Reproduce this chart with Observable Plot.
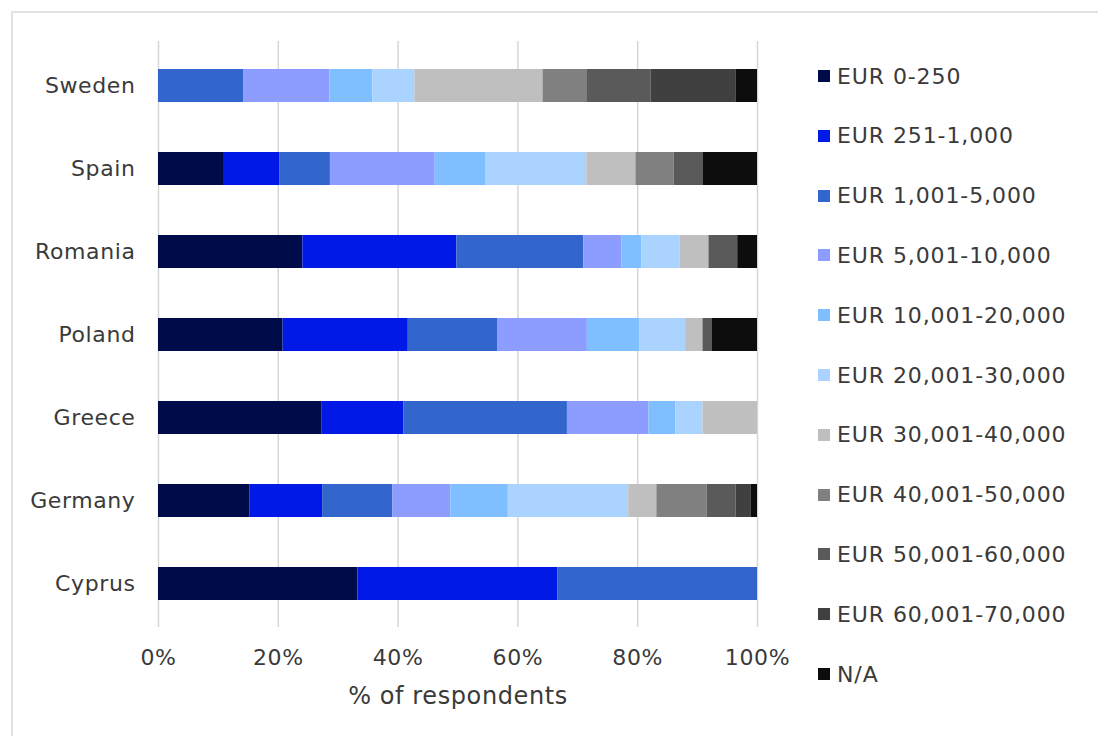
<!DOCTYPE html>
<html><head><meta charset="utf-8">
<script src="https://cdn.jsdelivr.net/npm/d3@7"></script>
<script src="https://cdn.jsdelivr.net/npm/@observablehq/plot@0.6"></script>
<style>
body{margin:0;background:#fff;font-family:"DejaVu Sans",Verdana,sans-serif;}
#wrap{position:relative;width:1098px;height:736px;overflow:hidden;}
#frame{position:absolute;left:11px;top:11px;width:1100px;height:740px;border-top:2px solid #e2e2e2;border-left:2px solid #e2e2e2;}
#chart{position:absolute;left:0;top:0;}
#legend{position:absolute;left:818px;top:0;}
.item{position:absolute;left:0;height:24px;display:flex;align-items:center;white-space:nowrap;font-size:22px;letter-spacing:0.9px;color:#3a3a3a;}
.sw{width:12px;height:12px;margin-right:7px;flex:none;}
</style></head>
<body><div id="wrap"><div id="frame"></div><div id="chart"></div><div id="legend"></div></div>
<script>
const countries = ["Sweden","Spain","Romania","Poland","Greece","Germany","Cyprus"];
const categories = ["EUR 0-250","EUR 251-1,000","EUR 1,001-5,000","EUR 5,001-10,000","EUR 10,001-20,000","EUR 20,001-30,000","EUR 30,001-40,000","EUR 40,001-50,000","EUR 50,001-60,000","EUR 60,001-70,000","N/A"];
const colors = ["#000c4a","#0019e6","#3366cc","#8c9cff","#80bfff","#aad4ff","#bfbfbf","#808080","#5a5a5a","#404040","#0d0d0d"];
// percentages per country, in category order
const sweden  = [0, 0, 14.2, 14.4, 7.2, 7.0, 21.4, 7.3, 10.7, 14.2, 3.6];
const spain   = [11.0, 9.3, 8.4, 17.5, 8.5, 16.8, 8.2, 6.4, 4.8, 0, 9.1];
const romania = [24.1, 25.7, 21.2, 6.4, 3.3, 6.4, 4.8, 0, 4.8, 0, 3.3];
const poland  = [20.8, 20.9, 14.9, 15.0, 8.8, 7.6, 2.9, 0, 1.5, 0, 7.6];
const greece  = [27.3, 13.6, 27.3, 13.6, 4.5, 4.5, 9.1, 0, 0, 0, 0];
const germany = [15.3, 12.1, 11.7, 9.7, 9.6, 20.1, 4.7, 8.4, 4.8, 2.5, 1.1];
const cyprus  = [33.3, 33.4, 33.3, 0, 0, 0, 0, 0, 0, 0, 0];
const xTicks = [0, 0.2, 0.4, 0.6, 0.8, 1];
const xTitle = "% of respondents";

const series = [sweden, spain, romania, poland, greece, germany, cyprus];
const rows = [];
countries.forEach((c, i) => categories.forEach((k, j) => {
  if (series[i][j] > 0) rows.push({country: c, category: k, value: series[i][j]});
}));

const chart = Plot.plot({
  width: 1098, height: 736,
  marginLeft: 158, marginRight: 341, marginTop: 41, marginBottom: 109,
  style: {fontFamily: "'DejaVu Sans', Verdana, sans-serif", fontSize: "22px", color: "#3a3a3a", background: "transparent", letterSpacing: "0.6px"},
  x: {domain: [0, 1]},
  y: {domain: countries, paddingInner: 0.606, paddingOuter: 0.3},
  color: {domain: categories, range: colors},
  marks: [
    Plot.gridX(xTicks, {stroke: "#d6d6d6", strokeOpacity: 1, strokeWidth: 1.5}),
    Plot.barX(rows, Plot.stackX({offset: "normalize", x: "value", y: "country", fill: "category", z: "category", order: categories})),
    Plot.axisX({ticks: xTicks, tickSize: 0, tickPadding: 22, tickFormat: d3.format(".0%"), label: null, fontSize: 22}),
    Plot.text([xTitle], {frameAnchor: "bottom", dy: 76, fontSize: 24, fill: "#3a3a3a", text: d => d}),
    Plot.axisY({tickSize: 0, tickPadding: 23, label: null, fontSize: 22})
  ]
});
document.getElementById("chart").appendChild(chart);

const legend = document.getElementById("legend");
categories.forEach((k, i) => {
  const d = document.createElement("div");
  d.className = "item";
  d.style.top = (76 + i * 59.8 - 12) + "px";
  const s = document.createElement("span");
  s.className = "sw"; s.style.background = colors[i];
  const t = document.createElement("span");
  t.textContent = k;
  d.appendChild(s); d.appendChild(t);
  legend.appendChild(d);
});
</script>
</body></html>
